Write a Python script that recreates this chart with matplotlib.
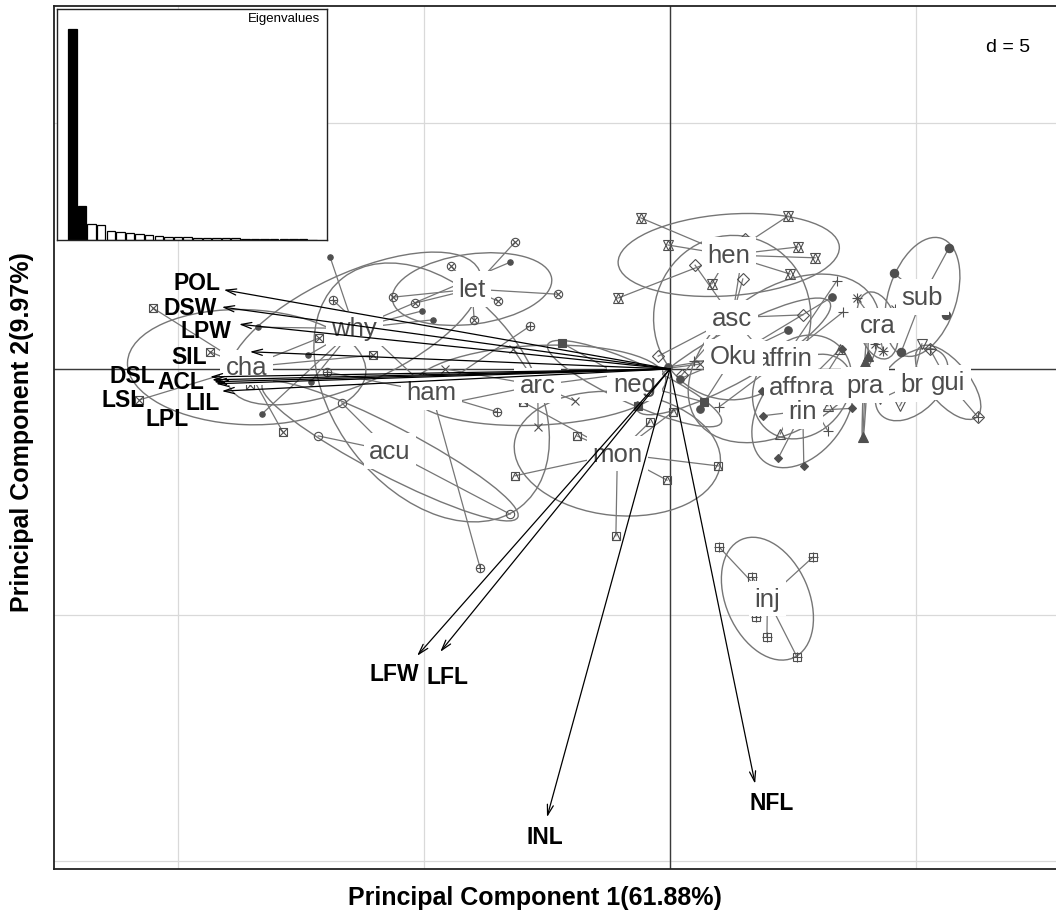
import matplotlib.pyplot as plt
from matplotlib.patches import Ellipse
import numpy as np

plt.rcParams['font.family'] = ['Liberation Sans', 'DejaVu Sans']

# eigenvalues, % of total inertia
eig_pct = [61.88, 9.97, 4.81, 4.52, 2.64, 2.35, 1.96, 1.67, 1.38, 1.26, 0.97, 0.97, 0.88,
           0.67, 0.59, 0.59, 0.50, 0.50, 0.38, 0.29, 0.29, 0.23, 0.21, 0.18, 0.15, 0.12]

# variable arrows (tips, in PC units)
var_names = ['POL', 'DSW', 'LPW', 'SIL', 'DSL', 'ACL', 'LSL', 'LPL', 'LIL', 'LFW', 'LFL', 'INL', 'NFL']
var_x = [-9.07, -9.11, -8.76, -8.54, -9.35, -9.31, -9.27, -9.23, -9.11, -5.14, -4.67, -2.50, 1.73]
var_y = [1.61, 1.26, 0.91, 0.35, -0.16, -0.22, -0.26, -0.30, -0.45, -5.83, -5.75, -9.11, -8.43]

# individual scores per group (PC1, PC2)
acu_x = [-6.67, -7.15, -3.25]
acu_y = [-0.69, -1.36, -2.95]
affpra_x = [2.24, 3.21, 1.83, 3.46]
affpra_y = [-1.32, -0.75, 0.20, 0.41]
affrin_x = [0.49, 1.00, 3.39, 3.52, 3.21]
affrin_y = [0.16, -0.77, 1.79, 1.16, -1.26]
arc_x = [-4.37, -4.57, -3.19, -1.93, -2.68, 0.61]
arc_y = [-0.67, 0.00, 0.41, -0.65, -1.18, 0.10]
asc_x = [0.51, 1.52, 2.70, -0.24, 0.24, 1.48, 2.64]
asc_y = [2.11, 2.64, 1.10, 0.26, -0.12, 1.83, -0.51]
br_x = [5.12, 4.67, 4.27, 5.59]
br_y = [0.51, -0.75, -0.61, -0.41]
cha_x = [-10.51, -9.35, -10.79, -7.87, -8.54, -7.13, -6.04]
cha_y = [1.24, 0.35, -0.63, -1.28, -0.33, 0.63, 0.28]
cra_x = [3.80, 4.33, 4.57, 4.17]
cra_y = [1.44, 0.37, 1.22, 0.51]
gui_x = [6.26, 5.28, 5.89, 5.18]
gui_y = [-0.98, 0.41, -0.10, -0.41]
ham_x = [-6.85, -6.97, -5.02, -3.52, -2.85, -3.86]
ham_y = [1.40, -0.06, -0.16, -0.87, 0.87, -4.04]
hen_x = [-0.59, 2.40, -0.04, 2.60, 2.44, 2.95, 0.85, -1.06]
hen_y = [3.07, 3.11, 2.52, 2.48, 1.93, 2.26, 1.73, 1.44]
inj_x = [1.00, 1.67, 2.91, 1.97, 2.58, 1.75]
inj_y = [-3.62, -4.23, -3.82, -5.45, -5.85, -5.04]
let_x = [-3.15, -4.45, -2.28, -5.63, -5.18, -3.98, -3.50]
let_y = [2.58, 2.09, 1.52, 1.46, 1.34, 1.00, 1.38]
mon_x = [-2.99, -3.15, -1.10, -0.06, 0.98, -0.41, 0.06, -1.89]
mon_y = [-0.67, -2.17, -3.39, -2.26, -1.97, -1.08, -0.87, -1.36]
neg_x = [-2.20, -0.65, 0.69]
neg_y = [0.53, -0.75, -0.67]
oku_x = [3.29, 2.40, 0.20, 0.61, -0.04]
oku_y = [1.46, 0.79, -0.20, -0.81, 0.04]
pra_x = [3.92, 4.02, 3.96]
pra_y = [-1.38, 0.26, 0.14]
rin_x = [1.87, 1.89, 2.20, 2.72, 3.70, 3.50, 3.01]
rin_y = [-0.45, -0.95, -1.81, -1.97, -0.80, 0.41, -0.40]
sub_x = [5.67, 4.70, 5.60, 4.55]
sub_y = [2.46, 0.35, 1.10, 1.95]
why_x = [-6.91, -8.37, -8.29, -7.30, -7.36, -5.04, -4.82, -3.25]
why_y = [2.28, 0.85, -0.91, -0.26, 0.28, 1.18, 1.00, 2.17]

# groups in factor-level order (pch 1..20)
groups = [('acu', acu_x, acu_y), ('affpra', affpra_x, affpra_y), ('affrin', affrin_x, affrin_y),
          ('arc', arc_x, arc_y), ('asc', asc_x, asc_y), ('br', br_x, br_y), ('cha', cha_x, cha_y),
          ('cra', cra_x, cra_y), ('gui', gui_x, gui_y), ('ham', ham_x, ham_y), ('hen', hen_x, hen_y),
          ('inj', inj_x, inj_y), ('let', let_x, let_y), ('mon', mon_x, mon_y), ('neg', neg_x, neg_y),
          ('Oku', oku_x, oku_y), ('pra', pra_x, pra_y), ('rin', rin_x, rin_y), ('sub', sub_x, sub_y),
          ('why', why_x, why_y)]

# R-like pch symbols built from matplotlib markers: (marker, filled, size factor)
PCH = {
    1: [('o', False, 1.0)], 2: [('^', False, 1.1)], 3: [('+', False, 1.3)], 4: [('x', False, 1.0)],
    5: [('D', False, 1.0)], 6: [('v', False, 1.1)], 7: [('s', False, 1.0), ('x', False, 1.0)],
    8: [('+', False, 1.3), ('x', False, 1.0)], 9: [('D', False, 1.0), ('+', False, 1.3)],
    10: [('o', False, 1.0), ('+', False, 1.0)], 11: [('^', False, 1.1), ('v', False, 1.1)],
    12: [('s', False, 1.0), ('+', False, 1.3)], 13: [('o', False, 1.0), ('x', False, 0.75)],
    14: [('s', False, 1.0), ('^', False, 1.0)], 15: [('s', True, 1.0)], 16: [('o', True, 0.9)],
    17: [('^', True, 1.1)], 18: [('D', True, 0.75)], 19: [('o', True, 1.0)], 20: [('o', True, 0.65)],
}

# layout
W, H = 1056, 912
ax_left, ax_right, ax_top, ax_bottom = 54, 1058, 7, 870
px_per_unit = 49.2
x0_px, y0_px = 670, 370
xlim = ((ax_left - x0_px) / px_per_unit, (ax_right - x0_px) / px_per_unit)
ylim = ((y0_px - ax_bottom) / px_per_unit, (y0_px - ax_top) / px_per_unit)

arrow_label_pos = {
    'POL': (-9.61, 1.75), 'DSW': (-9.76, 1.24), 'LPW': (-9.43, 0.79), 'SIL': (-9.78, 0.26),
    'DSL': (-10.93, -0.14), 'ACL': (-9.94, -0.26), 'LSL': (-11.12, -0.63), 'LIL': (-9.49, -0.69),
    'LPL': (-10.22, -1.00), 'LFW': (-5.61, -6.18), 'LFL': (-4.53, -6.26), 'INL': (-2.54, -9.51),
    'NFL': (2.07, -8.82),
}

grey_line = '#767676'
grey_mark = '#4f4f4f'
grey_text = '#4d4d4d'

fig = plt.figure(figsize=(W / 100, H / 100), dpi=100)
ax = fig.add_axes([ax_left / W, 1 - ax_bottom / H, (ax_right - ax_left) / W, (ax_bottom - ax_top) / H])
ax.set_xlim(*xlim)
ax.set_ylim(*ylim)
ax.set_xticks([])
ax.set_yticks([])
for s in ax.spines.values():
    s.set_color('#222222')
    s.set_linewidth(1.3)

# grid d = 5
for v in [-10, -5, 0, 5]:
    ax.axvline(v, color='#d9d9d9', lw=0.9, zorder=0)
for h in [-10, -5, 0, 5]:
    ax.axhline(h, color='#d9d9d9', lw=0.9, zorder=0)
ax.axvline(0, color='#3a3a3a', lw=1.0, zorder=0.5)
ax.axhline(0, color='#3a3a3a', lw=1.0, zorder=0.5)

# classes: ellipses, stars, points, labels
for k, (name, gx, gy) in enumerate(groups):
    gx = np.asarray(gx)
    gy = np.asarray(gy)
    cx, cy = gx.mean(), gy.mean()
    cov = np.cov(gx, gy, bias=True)
    vals, vecs = np.linalg.eigh(cov)
    order = vals.argsort()[::-1]
    vals, vecs = vals[order], vecs[:, order]
    ang = np.degrees(np.arctan2(vecs[1, 0], vecs[0, 0]))
    ell = Ellipse((cx, cy), 2 * 1.5 * np.sqrt(vals[0]), 2 * 1.5 * np.sqrt(max(vals[1], 1e-6)),
                  angle=ang, fill=False, ec=grey_line, lw=1.0, zorder=1)
    ax.add_patch(ell)
    for px, py in zip(gx, gy):
        ax.plot([cx, px], [cy, py], color=grey_line, lw=0.9, zorder=1.5)
    for m, filled, sc in PCH[k + 1]:
        ax.plot(gx, gy, ls='none', marker=m, ms=6 * sc, mec=grey_mark,
                mfc=grey_mark if filled else 'none', mew=0.8, zorder=2)
    ax.text(cx, cy, name, ha='center', va='center', fontsize=18.5, color=grey_text, zorder=3,
            bbox=dict(boxstyle='square,pad=0.22', fc='white', ec='none'))

# variable arrows
for name, vx, vy in zip(var_names, var_x, var_y):
    ax.annotate('', xy=(vx, vy), xytext=(0, 0),
                arrowprops=dict(arrowstyle='->,head_length=0.75,head_width=0.22', color='black',
                                lw=0.9, shrinkA=0, shrinkB=0), zorder=4)
    lx, ly = arrow_label_pos[name]
    ax.text(lx, ly, name, ha='center', va='center', fontsize=16.5, fontweight='bold',
            color='black', zorder=5)

ax.text((1008 - ax_left) / (ax_right - ax_left), (ax_bottom - 48) / (ax_bottom - ax_top), 'd = 5',
        transform=ax.transAxes, ha='center', va='center', fontsize=14, zorder=6,
        bbox=dict(boxstyle='square,pad=0.2', fc='white', ec='none'))

# eigenvalue inset
axi = fig.add_axes([57 / W, 1 - 241 / H, 270 / W, 231 / H])
n = len(eig_pct)
axi.bar(np.arange(n), eig_pct, width=0.88,
        color=['black' if i < 2 else 'white' for i in range(n)], edgecolor='black', lw=0.9)
axi.set_xlim(-1.6, 26.5)
axi.set_ylim(0, eig_pct[0] * 231 / 211)
axi.set_xticks([])
axi.set_yticks([])
axi.set_facecolor('white')
for s in axi.spines.values():
    s.set_color('#222222')
    s.set_linewidth(1.0)
axi.text(0.975, 0.985, 'Eigenvalues', transform=axi.transAxes, ha='right', va='top', fontsize=9.5)

fig.text(535 / W, 1 - 898 / H, 'Principal Component 1(61.88%)', ha='center', va='center',
         fontsize=18, fontweight='bold')
fig.text(22 / W, 1 - 432 / H, 'Principal Component 2(9.97%)', ha='center', va='center',
         fontsize=18, fontweight='bold', rotation=90)

fig.savefig('out.png', dpi=100)
